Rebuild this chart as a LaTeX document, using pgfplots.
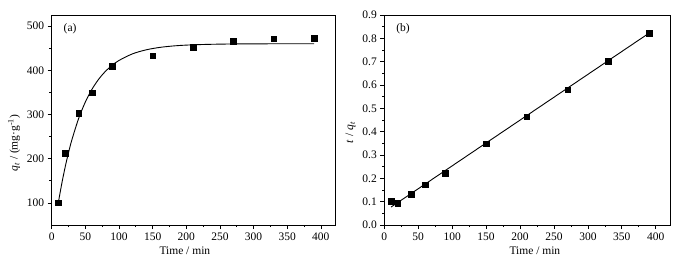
\documentclass[border=0pt]{standalone}
\usepackage{pgfplots}
\pgfplotsset{compat=1.18}
\usepackage{fontspec}
\setmainfont{Liberation Serif}

\newcommand{\figfont}{\fontsize{11.5bp}{13bp}\selectfont}

\pgfplotsset{
  kin/.style={
    scale only axis, height=210bp,
    axis line style={line width=0.8bp},
    tick style={line width=0.7bp, black},
    tick align=outside,
    xtick pos=bottom, ytick pos=left,
    major tick length=4bp, minor tick length=2.2bp,
    xmin=0, xmax=421, xtick={0,50,...,400}, minor x tick num=1,
    tick label style={font=\figfont},
    /pgf/number format/assume math mode=true,
    xlabel={Time / min},
    every axis plot/.append style={black},
  }
}

\begin{document}
\begin{tikzpicture}
\useasboundingbox (-51.7bp,-40bp) rectangle (638.3bp,225bp);

% (a) q_t vs t
\begin{axis}[kin, name=a, at={(0,0)}, anchor=south west,
    width=283.3bp,
    ymin=50, ymax=525, ytick={100,200,...,500}, minor y tick num=1,
    every axis x label/.style={at={(ticklabel cs:0.47)}, anchor=north, font=\figfont},
    every axis y label/.style={at={(ticklabel cs:0.39)}, rotate=90, anchor=south, font=\figfont},
    ylabel={\textit{q}\textsubscript{\textit{t}} / (mg·g\textsuperscript{-1})},
  ]
  \addplot[only marks, mark=square*, mark size=2.8bp] coordinates {
    (10,100) (20,213) (40,303) (60,349) (90,409)
    (150,433) (210,452) (270,466) (330,471) (390,473)
  };
  % fitted curve
  \addplot[line width=0.9bp, smooth, no marks] coordinates {
    (10,101.8) (15,143.8) (20,181.0) (25,213.8) (30,242.7) (40,290.8)
    (50,328.2) (60,357.4) (70,380.1) (80,397.8) (90,411.5) (100,422.2)
    (120,437.1) (140,446.1) (160,451.6) (180,454.9) (200,456.9)
    (230,458.5) (270,459.5) (330,459.9) (390,460.0)
  };
  \node[font=\figfont, anchor=west] at (rel axis cs:0.03,0.935) {(a)};
\end{axis}

% (b) t/q_t vs t
\begin{axis}[kin, name=b, at={(332.6bp,0)}, anchor=south west,
    width=285.7bp,
    ymin=0, ymax=0.9, ytick={0,0.1,...,0.9}, minor y tick num=1,
    yticklabel style={/pgf/number format/.cd, fixed, fixed zerofill, precision=1},
    every axis x label/.style={at={(ticklabel cs:0.527)}, anchor=north, font=\figfont},
    every axis y label/.style={at={(ticklabel cs:0.44)}, rotate=90, anchor=south, font=\figfont},
    ylabel={\textit{t} / \textit{q}\textsubscript{\textit{t}}},
  ]
  \addplot[only marks, mark=square*, mark size=2.8bp] coordinates {
    (10,0.101) (20,0.094) (40,0.131) (60,0.172) (90,0.221)
    (150,0.348) (210,0.464) (270,0.580) (330,0.701) (390,0.823)
  };
  % linear fit
  \addplot[line width=0.9bp, no marks] coordinates {(10,0.077) (390,0.822)};
  \node[font=\figfont, anchor=west] at (rel axis cs:0.03,0.935) {(b)};
\end{axis}
\end{tikzpicture}
\end{document}
